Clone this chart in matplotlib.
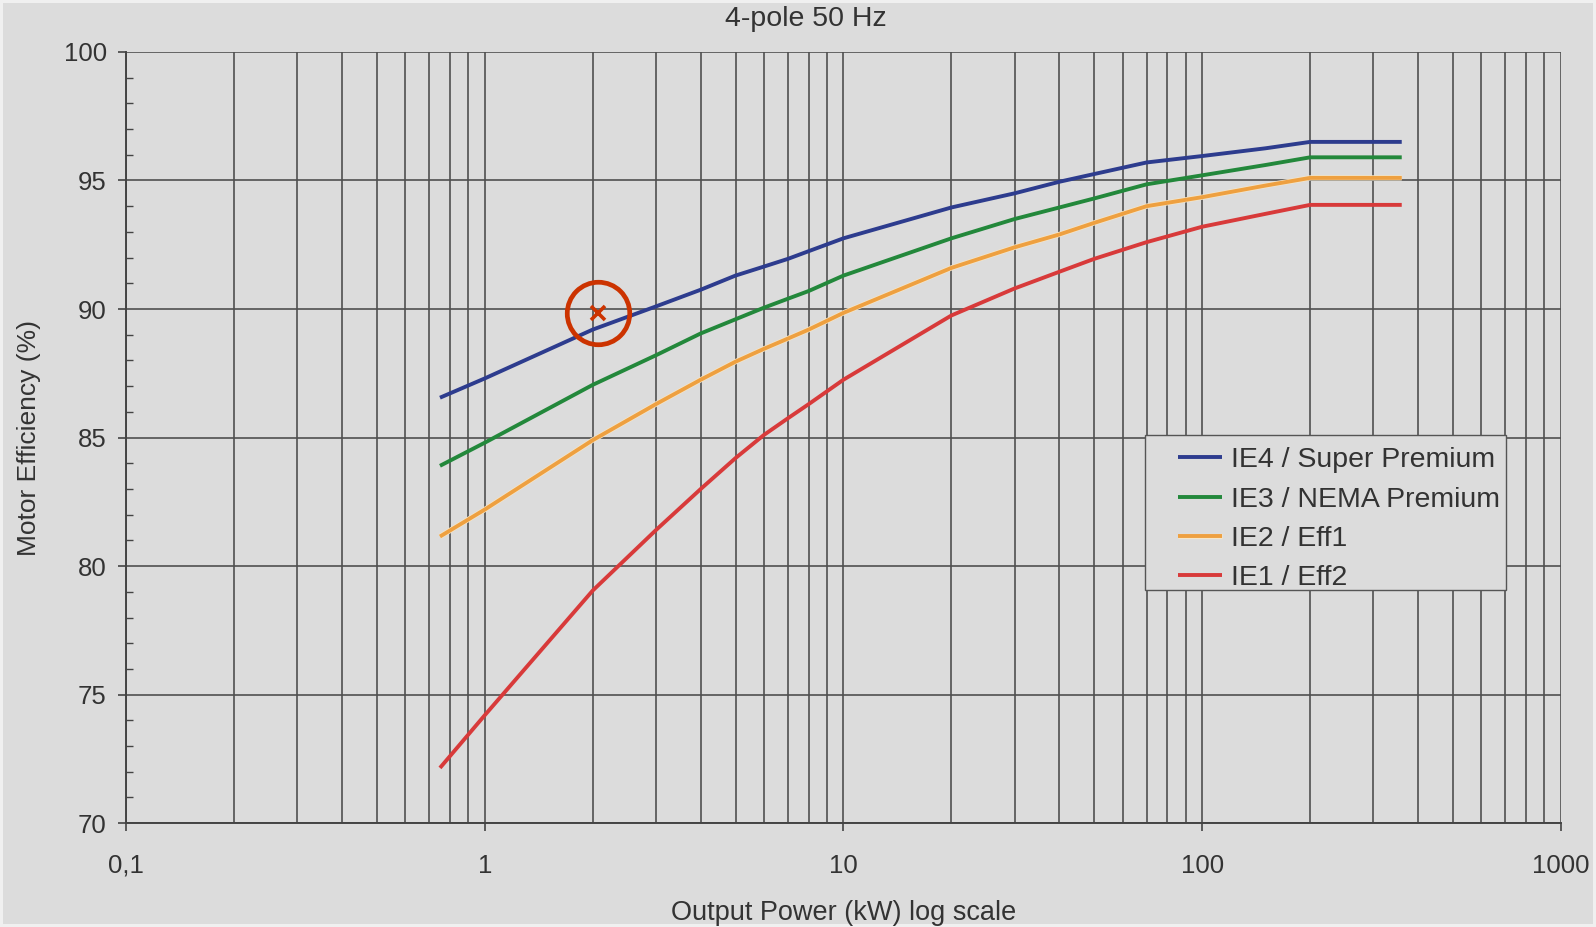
import numpy as np
import matplotlib
matplotlib.use("Agg")
import matplotlib.pyplot as plt
from matplotlib.ticker import FixedLocator, NullFormatter
from matplotlib.patches import Rectangle
import matplotlib.patheffects as pe

# potencia (kW) y rendimiento (%) leidos por clase
potencia = [0.75, 1, 2, 3, 4, 5, 6, 7, 8, 10, 20, 30, 40, 50, 70, 100, 150, 200, 360]

ie4 = [86.55, 87.3, 89.2, 90.1, 90.75, 91.3, 91.65, 91.95, 92.25, 92.75, 93.95, 94.5, 94.95, 95.25, 95.7, 95.95, 96.25, 96.5, 96.5]
ie3 = [83.9, 84.8, 87.05, 88.2, 89.05, 89.6, 90.05, 90.4, 90.7, 91.3, 92.75, 93.5, 93.95, 94.3, 94.85, 95.2, 95.6, 95.9, 95.9]
ie2 = [81.15, 82.2, 84.9, 86.3, 87.25, 87.95, 88.45, 88.85, 89.2, 89.85, 91.6, 92.4, 92.9, 93.35, 94.0, 94.35, 94.8, 95.1, 95.1]
ie1 = [72.15, 74.2, 79.05, 81.4, 83.0, 84.2, 85.1, 85.75, 86.3, 87.25, 89.75, 90.8, 91.45, 91.95, 92.6, 93.2, 93.7, 94.05, 94.05]

series = [ie4, ie3, ie2, ie1]
nombres = ["IE4 / Super Premium", "IE3 / NEMA Premium", "IE2 / Eff1", "IE1 / Eff2"]
colores = ["#2d3c8e", "#23883b", "#eea040", "#d83a3a"]

punto_p = 2.07
punto_ef = 89.83

xticks = [0.1, 1, 10, 100, 1000]
xlabels = ["0,1", "1", "10", "100", "1000"]
yticks = [70, 75, 80, 85, 90, 95, 100]

fondo = "#dcdcdc"
texto = "#333333"
plt.rcParams['font.family'] = ['Liberation Sans', 'DejaVu Sans']

fig = plt.figure(figsize=(15.96, 9.27), dpi=100, facecolor=fondo)
fig.patch.set_edgecolor("#f0f0f0")
fig.patch.set_linewidth(4)
ax = fig.add_axes([0.079, 0.112, 0.899, 0.832], facecolor=fondo)

for ef, nom, col in zip(series, nombres, colores):
    ln, = ax.plot(potencia, ef, color=col, lw=2.8, label=nom, solid_capstyle='butt',
                  solid_joinstyle='round', zorder=3)
    if nom == "IE2 / Eff1":
        ln.set_path_effects([pe.Stroke(linewidth=3.8, foreground="#f6e6c8"), pe.Normal()])

ax.plot(punto_p, punto_ef, marker='o', ms=45, mfc='none', mec="#cc3300", mew=3.4, zorder=4)
ax.plot(punto_p, punto_ef, marker='x', ms=10, mec="#cc3300", mew=2.6, zorder=4)

ax.set_xscale('log')
ax.set_xlim(0.1, 1000)
ax.set_ylim(70, 100)

menores = [m * d for d in [0.1, 1, 10, 100] for m in range(2, 10)]
ax.xaxis.set_major_locator(FixedLocator(xticks))
ax.xaxis.set_minor_locator(FixedLocator(menores))
ax.xaxis.set_minor_formatter(NullFormatter())
ax.set_xticklabels(xlabels)
ax.set_yticks(yticks)
ax.yaxis.set_minor_locator(FixedLocator(np.arange(70, 101, 1)))

ax.grid(True, which='major', color="#505050", lw=1.2)
ax.grid(True, which='minor', axis='x', color="#505050", lw=1.2)
ax.set_axisbelow(True)

ax.tick_params(axis='both', which='major', direction='out', length=6, width=1.2,
               color="#444444", labelsize=18.5, labelcolor=texto)
ax.tick_params(axis='x', which='major', pad=16)
ax.tick_params(axis='y', which='major', pad=8)
ax.tick_params(axis='y', which='minor', direction='in', length=5, width=1.0, color="#444444")
ax.tick_params(axis='x', which='minor', length=0)

for lado in ['top', 'right']:
    ax.spines[lado].set_visible(False)
for lado in ['left', 'bottom']:
    ax.spines[lado].set_color("#444444")
    ax.spines[lado].set_linewidth(1.4)

ax.set_xlabel("Output Power (kW) log scale", fontsize=19.5, color=texto, labelpad=16)
ax.set_ylabel("Motor Efficiency (%)", fontsize=19, color=texto, labelpad=16)
fig.text(0.505, 0.979, "4-pole 50 Hz", ha='center', va='center', fontsize=20.5, color=texto)

# caja de la leyenda dibujada aparte, con mas margen a la izquierda
caja = Rectangle((0.7174, 0.3631), 0.2265, 0.1681, transform=fig.transFigure,
                 facecolor=fondo, edgecolor="#555555", lw=1.0, zorder=5, clip_on=False)
ax.add_patch(caja)

leg = ax.legend(loc='upper left', bbox_to_anchor=(0.738, 0.5175), bbox_transform=fig.transFigure,
                borderaxespad=0, fontsize=20.5, frameon=False,
                handlelength=1.55, handletextpad=0.3, labelspacing=0.47, borderpad=0)
leg.set_zorder(6)
for t in leg.get_texts():
    t.set_color(texto)

plt.savefig("out.png", dpi=100, facecolor=fig.get_facecolor(), edgecolor=fig.patch.get_edgecolor())
plt.close()
